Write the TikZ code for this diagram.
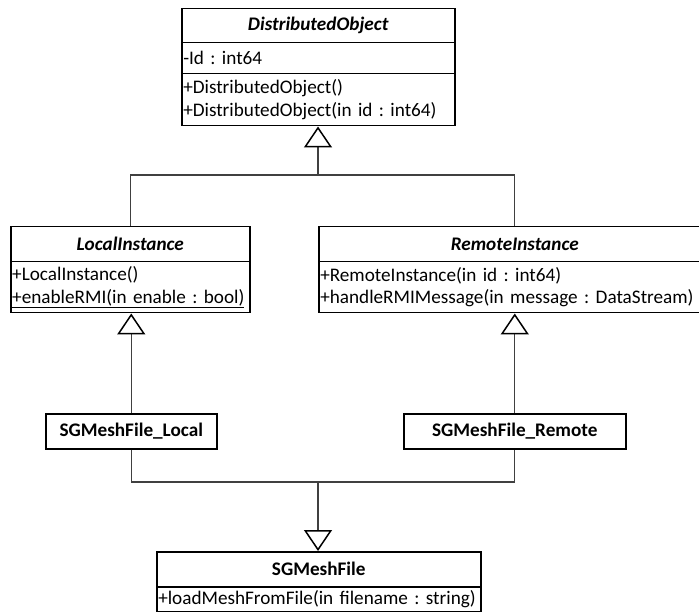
\documentclass[tikz,border=0pt]{standalone}
\usepackage{fontspec}
\setmainfont{Carlito}
\usetikzlibrary{arrows.meta}

\tikzset{
  umlfont/.style={font=\fontsize{19.2}{22.5}\selectfont\frenchspacing},
  compart/.style={draw=black, line width=1.5pt, inner xsep=1.2pt, inner ysep=0pt,
    anchor=north west, umlfont},
  header/.style={compart, align=center},
  body/.style={compart, align=left},
  conn/.style={draw=black!75, line width=1.1pt},
  gen/.style={conn, -{Triangle[open, length=21pt, width=28pt, line width=1.5pt, color=black]}},
}

\begin{document}
\begin{tikzpicture}[x=1pt, y=-1pt]
  \useasboundingbox (0,0) rectangle (699,612);

  % DistributedObject
  \node[header, minimum width=273pt, minimum height=34pt] (DOh) at (181,8)
    {\textbf{\textit{DistributedObject}}};
  \node[body, minimum width=273pt, minimum height=31pt, text width=270pt] (DOa) at (181,42)
    {-Id : int64};
  \node[body, minimum width=273pt, minimum height=52pt, text width=270pt] (DOm) at (181,73)
    {+DistributedObject()\\+DistributedObject(in id : int64)};

  % LocalInstance
  \node[header, minimum width=239pt, minimum height=35pt] (LIh) at (10,226)
    {\textbf{\textit{LocalInstance}}};
  \node[body, minimum width=239pt, minimum height=51pt, text width=236pt] (LIm) at (10,261)
    {+LocalInstance()\\\underline{+enableRMI(in enable : bool)}};

  % RemoteInstance
  \node[header, minimum width=392pt, minimum height=35pt] (RIh) at (318,226)
    {\textbf{\textit{RemoteInstance}}};
  \node[body, minimum width=392pt, minimum height=51pt, text width=389pt] (RIm) at (318,261)
    {+RemoteInstance(in id : int64)\\+handleRMIMessage(in message : DataStream)};

  % Concrete classes
  \node[header, minimum width=171pt, minimum height=35pt] (SL) at (45,413)
    {\textbf{SGMeshFile\_Local}};
  \node[header, minimum width=222pt, minimum height=35pt] (SR) at (403,413)
    {\textbf{SGMeshFile\_Remote}};

  % SGMeshFile
  \node[header, minimum width=324pt, minimum height=35pt] (SGh) at (156,551)
    {\textbf{SGMeshFile}};
  \node[body, minimum width=324pt, minimum height=25pt, text width=321pt] (SGm) at (156,586)
    {\mbox{+loadMeshFromFile(in filename : string)}};

  % Generalisation connectors
  \coordinate (j1) at (318,175);
  \coordinate (j2) at (318,482);
  \draw[conn] (LIh.north) |- (j1) -| (RIh.north);
  \draw[gen] (j1) -- (j1 |- DOm.south);
  \draw[gen] (SL.north) -- (SL.north |- LIm.south);
  \draw[gen] (SR.north) -- (SR.north |- RIm.south);
  \draw[conn] (SL.south) |- (j2) -| (SR.south);
  \draw[gen] (j2) -- (j2 |- SGh.north);
\end{tikzpicture}
\end{document}
